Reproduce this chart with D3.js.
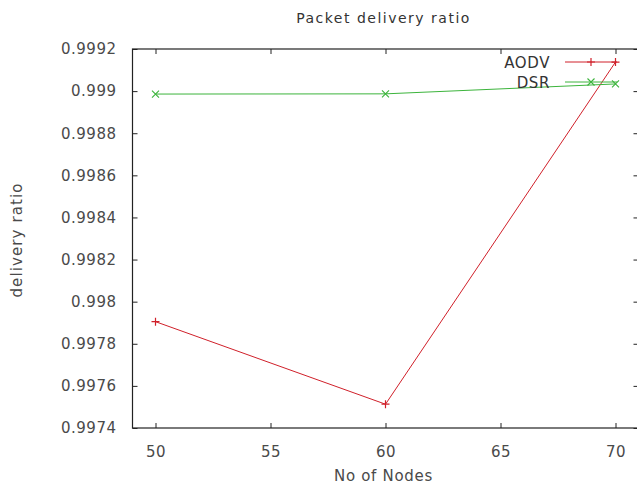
<!DOCTYPE html>
<html>
<head>
<meta charset="utf-8">
<script src="https://cdn.jsdelivr.net/npm/d3@7"></script>
<style>
  body { margin: 0; background: #fff; }
  text { font-family: "DejaVu Sans", sans-serif; }
</style>
</head>
<body>
<div id="chart"></div>
<script>
// data
const nodes = [50, 60, 70];
const aodv = [0.997905, 0.997513, 0.999138];
const dsr = [0.998986, 0.998987, 0.999034];
const xTicks = [50, 55, 60, 65, 70];
const yTicks = [0.9974, 0.9976, 0.9978, 0.998, 0.9982, 0.9984, 0.9986, 0.9988, 0.999, 0.9992];
const seriesNames = ["AODV", "DSR"];

const width = 637, height = 485;
const plotL = 132.5, plotR = 638.5, plotT = 49, plotB = 428;

const svg = d3.select("#chart").append("svg")
    .attr("width", width)
    .attr("height", height);

const x = d3.scaleLinear().domain([49, 71]).range([plotL, plotR]);
const y = d3.scaleLinear().domain([0.9974, 0.9992]).range([plotB, plotT]);

const fmt = d => String(+d.toFixed(4));

// border box
svg.append("rect")
    .attr("x", plotL).attr("y", plotT)
    .attr("width", plotR - plotL).attr("height", plotB - plotT)
    .attr("fill", "none").attr("stroke", "#222").attr("stroke-width", 1.2);

// axes with mirrored inward ticks
const tickLen = 5;
svg.append("g")
    .attr("transform", `translate(0,${plotB})`)
    .call(d3.axisBottom(x).tickValues(xTicks).tickSize(-tickLen).tickPadding(18).tickFormat(d3.format("d")))
    .call(g => g.select(".domain").remove());
svg.append("g")
    .attr("transform", `translate(0,${plotT})`)
    .call(d3.axisTop(x).tickValues(xTicks).tickSize(-tickLen).tickFormat(""))
    .call(g => g.select(".domain").remove());
svg.append("g")
    .attr("transform", `translate(${plotL},0)`)
    .call(d3.axisLeft(y).tickValues(yTicks).tickSize(-tickLen).tickPadding(16).tickFormat(fmt))
    .call(g => g.select(".domain").remove());
svg.append("g")
    .attr("transform", `translate(${plotR},0)`)
    .call(d3.axisRight(y).tickValues(yTicks).tickSize(-tickLen).tickFormat(""))
    .call(g => g.select(".domain").remove());

svg.selectAll(".tick line").attr("stroke", "#222");
svg.selectAll(".tick text")
    .attr("fill", "#4a4a4a")
    .style("font-size", "15px")
    .style("letter-spacing", "0.5px")
    .style("font-family", "DejaVu Sans, sans-serif");

// titles
svg.append("text")
    .attr("x", (plotL + plotR) / 2 - 2).attr("y", 23)
    .attr("text-anchor", "middle")
    .attr("fill", "#333").style("font-size", "14px")
    .style("letter-spacing", "1.5px")
    .text("Packet delivery ratio");
svg.append("text")
    .attr("x", (plotL + plotR) / 2 - 2).attr("y", 481)
    .attr("text-anchor", "middle")
    .attr("fill", "#4a4a4a").style("font-size", "15px")
    .style("letter-spacing", "0.7px")
    .text("No of Nodes");
svg.append("text")
    .attr("transform", "translate(22,240) rotate(-90)")
    .attr("text-anchor", "middle")
    .attr("fill", "#4a4a4a").style("font-size", "15px")
    .style("letter-spacing", "1.1px")
    .text("delivery ratio");

const colors = ["#d0202a", "#3cb43c"];
const line = d3.line().x(d => x(d[0])).y(d => y(d[1]));

function plus(g, px, py, c) {
  const s = 4;
  g.append("path")
    .attr("d", `M${px - s},${py}H${px + s}M${px},${py - s}V${py + s}`)
    .attr("stroke", c).attr("stroke-width", 1.2).attr("fill", "none");
}
function cross(g, px, py, c) {
  const s = 3.5;
  g.append("path")
    .attr("d", `M${px - s},${py - s}L${px + s},${py + s}M${px - s},${py + s}L${px + s},${py - s}`)
    .attr("stroke", c).attr("stroke-width", 1.1).attr("fill", "none");
}
const markers = [plus, cross];

[aodv, dsr].forEach((vals, i) => {
  const pts = nodes.map((n, j) => [n, vals[j]]);
  const g = svg.append("g");
  g.append("path")
    .attr("d", line(pts))
    .attr("fill", "none").attr("stroke", colors[i]).attr("stroke-width", 1);
  pts.forEach(p => markers[i](g, x(p[0]), y(p[1]), colors[i]));

  // legend entry
  const ly = 62 + i * 20;
  svg.append("text")
    .attr("x", 550).attr("y", ly + 5.5)
    .attr("text-anchor", "end")
    .attr("fill", "#333").style("font-size", "15px")
    .style("letter-spacing", "0.6px")
    .text(seriesNames[i]);
  svg.append("line")
    .attr("x1", 565).attr("x2", 617).attr("y1", ly).attr("y2", ly)
    .attr("stroke", colors[i]).attr("stroke-width", 1);
  markers[i](svg, 591, ly, colors[i]);
});
</script>
</body>
</html>
